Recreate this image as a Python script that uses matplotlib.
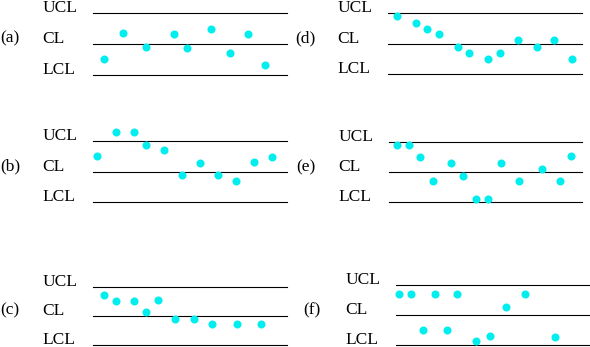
import matplotlib.pyplot as plt
from matplotlib.transforms import offset_copy

# sample positions (% of the line length) and values in sigma units
# (CL = 0, UCL = +3, LCL = -3)
a_x = [5.7, 15.5, 27.2, 42.0, 48.5, 60.8, 70.4, 79.9, 88.8]
a_y = [-1.45, 1.0, -0.32, 0.94, -0.39, 1.42, -0.90, 0.90, -2.03]

b_x = [2.2, 11.7, 21.0, 27.2, 36.5, 45.8, 54.9, 64.4, 73.7, 83.0, 92.3]
b_y = [1.53, 3.88, 3.88, 2.64, 2.09, -0.33, 0.88, -0.33, -0.88, 0.95, 1.47]

c_x = [5.5, 11.9, 21.3, 27.2, 33.7, 42.5, 52.0, 61.3, 74.2, 86.4]
c_y = [2.11, 1.50, 1.50, 0.38, 1.57, -0.31, -0.31, -0.82, -0.82, -0.82]

d_x = [4.7, 14.5, 20.3, 26.2, 35.9, 41.9, 51.6, 57.9, 67.2, 76.9, 85.7, 94.7]
d_y = [2.69, 2.03, 1.44, 0.92, -0.36, -0.92, -1.48, -0.92, 0.33, -0.30, 0.33, -1.48]

e_x = [4.1, 10.4, 16.2, 23.0, 32.3, 38.5, 45.3, 51.3, 58.0, 67.4, 79.3, 88.6, 94.3]
e_y = [2.72, 2.72, 1.53, -0.89, 0.91, -0.32, -2.62, -2.62, 0.98, -0.89, 0.35, -0.89, 1.60]

f_x = [1.5, 7.5, 13.7, 19.9, 26.2, 31.7, 41.3, 48.2, 56.9, 66.6, 81.8]
f_y = [2.08, 2.08, -1.53, 2.08, -1.53, 2.08, -2.67, -2.17, 0.81, 2.08, -2.23]

limits = ["UCL", "CL", "LCL"]
levels = [3, 0, -3]

W, H = 590, 347
fig = plt.figure(figsize=(W / 100, H / 100), dpi=100)

# panel placement in pixels: line left, line right, UCL y, LCL y (from top)
panels = [
    ("(a)", a_x, a_y, (93, 287, 12.7, 74.7)),
    ("(b)", b_x, b_y, (93, 287, 141.0, 202.3)),
    ("(c)", c_x, c_y, (93, 287, 286.7, 344.6)),
    ("(d)", d_x, d_y, (388, 582, 13.3, 74.0)),
    ("(e)", e_x, e_y, (389, 582, 142.3, 202.3)),
    ("(f)", f_x, f_y, (396, 590, 285.3, 344.6)),
]

font = dict(family="Liberation Serif", fontsize=12.5, color="black")

for name, xs, ys, (l, r, top, bot) in panels:
    ax = fig.add_axes([l / W, (H - bot) / H, (r - l) / W, (bot - top) / H])
    ax.set_xlim(0, 100)
    ax.set_ylim(-3, 3)
    ax.axis("off")
    trans = offset_copy(ax.get_yaxis_transform(), fig=fig, x=-50.5, y=1, units="dots")
    for lab, lvl in zip(limits, levels):
        ax.axhline(lvl, color="black", lw=0.8, clip_on=False)
        ax.text(0, lvl, lab, transform=trans, ha="left", va="baseline", **font)
    ptrans = offset_copy(ax.get_yaxis_transform(), fig=fig, x=-93, y=1, units="dots")
    ax.text(0, 0, name, transform=ptrans, ha="left", va="baseline", **font)
    ax.plot(xs, ys, "o", color="#00eeee", ms=5.8, mec="none", clip_on=False)

fig.savefig("out.png", dpi=100)
